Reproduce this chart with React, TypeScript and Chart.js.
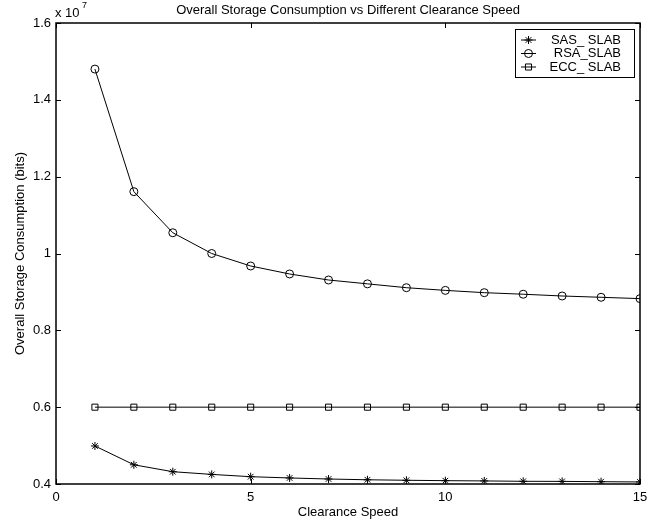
import React, { useEffect, useRef } from "react";
import { Chart, registerables } from "chart.js";
import { drawPoint } from "chart.js/helpers";

Chart.register(...registerables);

const clearanceSpeed = [1, 2, 3, 4, 5, 6, 7, 8, 9, 10, 11, 12, 13, 14, 15];
const sasSlab = [
  4990000, 4500000, 4320000, 4250000, 4190000, 4157000, 4130000, 4110000,
  4097000, 4087000, 4080000, 4070000, 4068000, 4060000, 4053000,
];
const rsaSlab = [
  14800000, 11610000, 10540000, 10000000, 9675000, 9467000, 9310000, 9210000,
  9110000, 9040000, 8980000, 8940000, 8894000, 8860000, 8825000,
];
const eccSlab = [
  6000000, 6000000, 6000000, 6000000, 6000000, 6000000, 6000000, 6000000,
  6000000, 6000000, 6000000, 6000000, 6000000, 6000000, 6000000,
];
const seriesLabels = ["SAS_ SLAB", "RSA_SLAB", "ECC_ SLAB"];
const chartTitle = "Overall Storage Consumption vs Different Clearance Speed";
const xTitle = "Clearance Speed";
const yTitle = "Overall Storage Consumption (bits)";
const yScaleExp = 7;

const FONT = "'Liberation Sans', Arial, Helvetica, sans-serif";

const decorPlugin = {
  id: "decor",
  afterDraw(chart: any) {
    const { ctx, chartArea } = chart;
    const { left, right, top, bottom } = chartArea;
    const xs = chart.scales.x;
    const ys = chart.scales.y;
    ctx.save();
    ctx.strokeStyle = "#000";
    ctx.lineWidth = 1.5;
    ctx.strokeRect(left, top, right - left, bottom - top);
    ctx.lineWidth = 1;
    const tl = 5;
    ctx.beginPath();
    xs.ticks.forEach((t: any) => {
      const px = Math.round(xs.getPixelForValue(t.value)) + 0.5;
      ctx.moveTo(px, bottom);
      ctx.lineTo(px, bottom - tl);
      ctx.moveTo(px, top);
      ctx.lineTo(px, top + tl);
    });
    ys.ticks.forEach((t: any) => {
      const py = Math.round(ys.getPixelForValue(t.value)) + 0.5;
      ctx.moveTo(left, py);
      ctx.lineTo(left + tl, py);
      ctx.moveTo(right, py);
      ctx.lineTo(right - tl, py);
    });
    ctx.stroke();

    ctx.fillStyle = "#000";
    // title
    ctx.font = `13px ${FONT}`;
    ctx.textAlign = "center";
    ctx.textBaseline = "middle";
    ctx.fillText(chartTitle, (left + right) / 2, 10);
    // x title
    ctx.fillText(xTitle, (left + right) / 2, 512);
    // y title
    ctx.save();
    ctx.translate(20, (top + bottom) / 2);
    ctx.rotate(-Math.PI / 2);
    ctx.fillText(yTitle, 0, 0);
    ctx.restore();
    // exponent
    ctx.textAlign = "left";
    ctx.font = `13px ${FONT}`;
    ctx.fillText("x 10", 55, 13);
    ctx.font = `9px ${FONT}`;
    ctx.fillText(String(yScaleExp), 82, 6);

    // legend
    const bx = 515, by = 29, bw = 119, bh = 48;
    ctx.fillStyle = "#fff";
    ctx.fillRect(bx, by, bw, bh);
    ctx.lineWidth = 1;
    ctx.strokeStyle = "#000";
    ctx.strokeRect(bx + 0.5, by + 0.5, bw, bh);
    const rows = [40, 53.5, 67];
    chart.data.datasets.forEach((ds: any, i: number) => {
      const y = rows[i];
      ctx.strokeStyle = "#000";
      ctx.lineWidth = 1;
      ctx.beginPath();
      ctx.moveTo(521, y);
      ctx.lineTo(536, y);
      ctx.stroke();
      ctx.fillStyle = "rgba(0,0,0,0)";
      drawPoint(ctx, {
        pointStyle: ds.pointStyle,
        radius: ds.pointRadius,
        rotation: 0,
        borderWidth: 1,
      } as any, 528.5, y);
      ctx.fillStyle = "#000";
      ctx.font = `13px ${FONT}`;
      ctx.textAlign = "right";
      ctx.textBaseline = "middle";
      ctx.fillText(ds.label, 621, y);
    });
    ctx.restore();
  },
};

export default function App() {
  const ref = useRef<HTMLCanvasElement | null>(null);
  useEffect(() => {
    document.body.style.margin = "0";
    if (!ref.current) return;
    const mk = (label: string, data: number[], style: string, r: number) => ({
      label,
      data: clearanceSpeed.map((x, i) => ({ x, y: data[i] })),
      borderColor: "#000",
      borderWidth: 1,
      pointStyle: style,
      pointRadius: r,
      pointBorderColor: "#000",
      pointBackgroundColor: "rgba(0,0,0,0)",
      pointBorderWidth: 1,
      tension: 0,
      fill: false,
    });
    const chart = new Chart(ref.current, {
      type: "line",
      data: {
        datasets: [
          mk(seriesLabels[0], sasSlab, "star", 4),
          mk(seriesLabels[1], rsaSlab, "circle", 4),
          mk(seriesLabels[2], eccSlab, "rect", 4.3),
        ] as any,
      },
      options: {
        animation: false,
        responsive: false,
        devicePixelRatio: 1,
        layout: { padding: { left: 0, top: 23, right: 20, bottom: 0 } },
        plugins: {
          legend: { display: false },
          title: { display: false },
          tooltip: { enabled: false },
        },
        scales: {
          x: {
            type: "linear",
            min: 0,
            max: 15,
            afterFit: (s: any) => {
              s.height = 39;
            },
            grid: { display: false, drawTicks: false },
            border: { display: false },
            ticks: {
              stepSize: 5,
              padding: 6,
              color: "#000",
              font: { family: FONT, size: 13 },
              maxRotation: 0,
            },
          },
          y: {
            type: "linear",
            min: 4000000,
            max: 16000000,
            afterFit: (s: any) => {
              s.width = 56;
            },
            grid: { display: false, drawTicks: false },
            border: { display: false },
            ticks: {
              stepSize: 2000000,
              padding: 5,
              color: "#000",
              font: { family: FONT, size: 13 },
              callback: (v: any) =>
                String(parseFloat((Number(v) / Math.pow(10, yScaleExp)).toFixed(1))),
            },
          },
        },
      },
      plugins: [decorPlugin],
    });
    return () => chart.destroy();
  }, []);
  return (
    <div style={{ width: 660, height: 523 }}>
      <canvas ref={ref} width={660} height={523} style={{ display: "block" }} />
    </div>
  );
}
